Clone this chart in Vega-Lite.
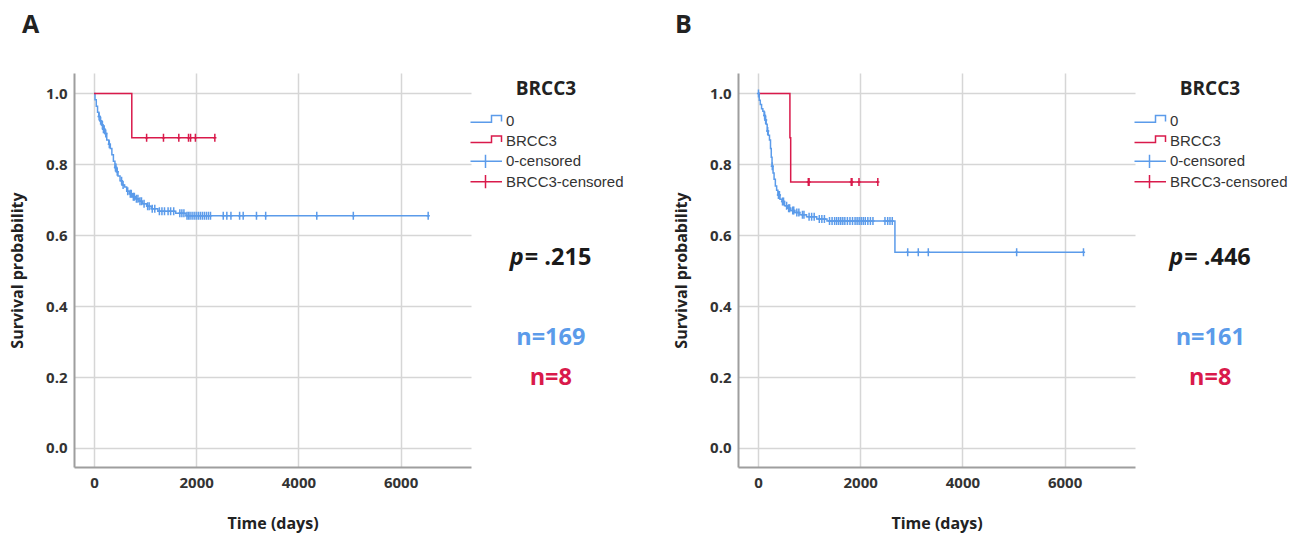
{
  "$schema": "https://vega.github.io/schema/vega-lite/v6.json",
  "background": "white",
  "padding": {"left": 9, "top": 13, "right": 5, "bottom": 5},
  "bounds": "flush",
  "spacing": 267,
  "resolve": {
    "scale": {"color": "independent", "shape": "independent", "stroke": "independent", "fill": "independent"},
    "legend": {"color": "independent", "shape": "independent", "stroke": "independent", "fill": "independent"}
  },
  "config": {
    "view": {"stroke": null},
    "font": "Open Sans",
    "axis": {
      "domainColor": "#9e9e9e", "domainWidth": 2, "ticks": false, "grid": true,
      "gridColor": "#d6d6d6", "gridWidth": 1.5,
      "labelFont": "Open Sans", "labelFontWeight": "bold", "labelFontSize": 15, "labelColor": "#333333",
      "titleFont": "Open Sans", "titleFontWeight": "bold", "titleFontSize": 16, "titleColor": "#222222",
      "labelOverlap": false
    },
    "legend": {"orient": "none", "legendX": 394, "legendY": 7, "titleAnchor": "middle", "titleFont": "Open Sans", "titleFontSize": 19, "titleFontWeight": "bold", "titleColor": "#222222", "titlePadding": 14, "labelFont": "Liberation Sans", "labelFontSize": 15, "labelColor": "#333333", "symbolSize": 100, "symbolStrokeWidth": 1.5, "labelOffset": 23, "rowPadding": -0.6, "gridAlign": "all", "symbolFillColor": "transparent"}
  },
  "datasets": {
    "keys": [{"key": "0"}, {"key": "BRCC3"}, {"key": "0-censored"}, {"key": "BRCC3-censored"}],
    "kmA": [
      {"t": 0, "s": 1, "key": "0"}, {"t": 20, "s": 0.982, "key": "0"}, {"t": 45, "s": 0.964, "key": "0"},
      {"t": 70, "s": 0.947, "key": "0"}, {"t": 95, "s": 0.935, "key": "0"}, {"t": 120, "s": 0.923, "key": "0"},
      {"t": 150, "s": 0.911, "key": "0"}, {"t": 175, "s": 0.899, "key": "0"}, {"t": 210, "s": 0.887, "key": "0"},
      {"t": 250, "s": 0.869, "key": "0"}, {"t": 290, "s": 0.857, "key": "0"}, {"t": 320, "s": 0.845, "key": "0"},
      {"t": 350, "s": 0.827, "key": "0"}, {"t": 380, "s": 0.809, "key": "0"}, {"t": 410, "s": 0.791, "key": "0"},
      {"t": 440, "s": 0.779, "key": "0"}, {"t": 470, "s": 0.767, "key": "0"}, {"t": 510, "s": 0.754, "key": "0"},
      {"t": 550, "s": 0.742, "key": "0"}, {"t": 600, "s": 0.736, "key": "0"}, {"t": 640, "s": 0.724, "key": "0"},
      {"t": 690, "s": 0.717, "key": "0"}, {"t": 750, "s": 0.709, "key": "0"}, {"t": 810, "s": 0.703, "key": "0"},
      {"t": 880, "s": 0.696, "key": "0"}, {"t": 950, "s": 0.689, "key": "0"}, {"t": 1030, "s": 0.682, "key": "0"},
      {"t": 1120, "s": 0.675, "key": "0"}, {"t": 1250, "s": 0.668, "key": "0"}, {"t": 1600, "s": 0.662, "key": "0"},
      {"t": 1800, "s": 0.655, "key": "0"}, {"t": 6560, "s": 0.655, "key": "0"},
      {"t": 0, "s": 1, "key": "BRCC3"}, {"t": 740, "s": 0.875, "key": "BRCC3"}, {"t": 2370, "s": 0.875, "key": "BRCC3"}
    ],
    "censA": [
      {"t": 100, "s": 0.935, "key": "0-censored"}, {"t": 130, "s": 0.923, "key": "0-censored"},
      {"t": 165, "s": 0.911, "key": "0-censored"}, {"t": 185, "s": 0.899, "key": "0-censored"},
      {"t": 200, "s": 0.899, "key": "0-censored"}, {"t": 230, "s": 0.887, "key": "0-censored"},
      {"t": 300, "s": 0.857, "key": "0-censored"}, {"t": 420, "s": 0.791, "key": "0-censored"},
      {"t": 430, "s": 0.791, "key": "0-censored"}, {"t": 455, "s": 0.779, "key": "0-censored"},
      {"t": 540, "s": 0.754, "key": "0-censored"}, {"t": 570, "s": 0.742, "key": "0-censored"},
      {"t": 660, "s": 0.724, "key": "0-censored"}, {"t": 710, "s": 0.717, "key": "0-censored"},
      {"t": 730, "s": 0.717, "key": "0-censored"}, {"t": 770, "s": 0.709, "key": "0-censored"},
      {"t": 790, "s": 0.709, "key": "0-censored"}, {"t": 830, "s": 0.703, "key": "0-censored"},
      {"t": 860, "s": 0.703, "key": "0-censored"}, {"t": 900, "s": 0.696, "key": "0-censored"},
      {"t": 930, "s": 0.696, "key": "0-censored"}, {"t": 980, "s": 0.689, "key": "0-censored"},
      {"t": 1050, "s": 0.682, "key": "0-censored"}, {"t": 1080, "s": 0.682, "key": "0-censored"},
      {"t": 1140, "s": 0.675, "key": "0-censored"}, {"t": 1190, "s": 0.675, "key": "0-censored"},
      {"t": 1280, "s": 0.668, "key": "0-censored"}, {"t": 1330, "s": 0.668, "key": "0-censored"},
      {"t": 1380, "s": 0.668, "key": "0-censored"}, {"t": 1450, "s": 0.668, "key": "0-censored"},
      {"t": 1500, "s": 0.668, "key": "0-censored"}, {"t": 1560, "s": 0.668, "key": "0-censored"},
      {"t": 1680, "s": 0.662, "key": "0-censored"}, {"t": 1720, "s": 0.662, "key": "0-censored"},
      {"t": 1760, "s": 0.662, "key": "0-censored"}, {"t": 1820, "s": 0.655, "key": "0-censored"},
      {"t": 1850, "s": 0.655, "key": "0-censored"}, {"t": 1880, "s": 0.655, "key": "0-censored"},
      {"t": 1920, "s": 0.655, "key": "0-censored"}, {"t": 1960, "s": 0.655, "key": "0-censored"},
      {"t": 2000, "s": 0.655, "key": "0-censored"}, {"t": 2040, "s": 0.655, "key": "0-censored"},
      {"t": 2080, "s": 0.655, "key": "0-censored"}, {"t": 2120, "s": 0.655, "key": "0-censored"},
      {"t": 2160, "s": 0.655, "key": "0-censored"}, {"t": 2200, "s": 0.655, "key": "0-censored"},
      {"t": 2240, "s": 0.655, "key": "0-censored"}, {"t": 2280, "s": 0.655, "key": "0-censored"},
      {"t": 2530, "s": 0.655, "key": "0-censored"}, {"t": 2600, "s": 0.655, "key": "0-censored"},
      {"t": 2680, "s": 0.655, "key": "0-censored"}, {"t": 2850, "s": 0.655, "key": "0-censored"},
      {"t": 2920, "s": 0.655, "key": "0-censored"}, {"t": 3180, "s": 0.655, "key": "0-censored"},
      {"t": 3360, "s": 0.655, "key": "0-censored"}, {"t": 4360, "s": 0.655, "key": "0-censored"},
      {"t": 5075, "s": 0.655, "key": "0-censored"}, {"t": 6540, "s": 0.655, "key": "0-censored"},
      {"t": 1030, "s": 0.875, "key": "BRCC3-censored"}, {"t": 1360, "s": 0.875, "key": "BRCC3-censored"},
      {"t": 1660, "s": 0.875, "key": "BRCC3-censored"}, {"t": 1850, "s": 0.875, "key": "BRCC3-censored"},
      {"t": 1890, "s": 0.875, "key": "BRCC3-censored"}, {"t": 1985, "s": 0.875, "key": "BRCC3-censored"},
      {"t": 2365, "s": 0.875, "key": "BRCC3-censored"}
    ],
    "kmB": [
      {"t": 0, "s": 1, "key": "0"}, {"t": 25, "s": 0.981, "key": "0"}, {"t": 45, "s": 0.969, "key": "0"},
      {"t": 70, "s": 0.957, "key": "0"}, {"t": 95, "s": 0.95, "key": "0"}, {"t": 120, "s": 0.938, "key": "0"},
      {"t": 140, "s": 0.925, "key": "0"}, {"t": 160, "s": 0.913, "key": "0"}, {"t": 180, "s": 0.894, "key": "0"},
      {"t": 200, "s": 0.882, "key": "0"}, {"t": 225, "s": 0.869, "key": "0"}, {"t": 245, "s": 0.845, "key": "0"},
      {"t": 260, "s": 0.82, "key": "0"}, {"t": 275, "s": 0.795, "key": "0"}, {"t": 295, "s": 0.776, "key": "0"},
      {"t": 315, "s": 0.758, "key": "0"}, {"t": 340, "s": 0.739, "key": "0"}, {"t": 365, "s": 0.727, "key": "0"},
      {"t": 390, "s": 0.714, "key": "0"}, {"t": 430, "s": 0.702, "key": "0"}, {"t": 470, "s": 0.695, "key": "0"},
      {"t": 520, "s": 0.683, "key": "0"}, {"t": 580, "s": 0.676, "key": "0"}, {"t": 640, "s": 0.67, "key": "0"},
      {"t": 720, "s": 0.664, "key": "0"}, {"t": 820, "s": 0.658, "key": "0"}, {"t": 950, "s": 0.652, "key": "0"},
      {"t": 1150, "s": 0.646, "key": "0"}, {"t": 1350, "s": 0.64, "key": "0"}, {"t": 2680, "s": 0.552, "key": "0"},
      {"t": 6380, "s": 0.552, "key": "0"},
      {"t": 0, "s": 1, "key": "BRCC3"}, {"t": 625, "s": 0.875, "key": "BRCC3"}, {"t": 640, "s": 0.75, "key": "BRCC3"},
      {"t": 2345, "s": 0.75, "key": "BRCC3"}
    ],
    "censB": [
      {"t": 10, "s": 1, "key": "0-censored"}, {"t": 130, "s": 0.938, "key": "0-censored"},
      {"t": 150, "s": 0.925, "key": "0-censored"}, {"t": 190, "s": 0.894, "key": "0-censored"},
      {"t": 280, "s": 0.795, "key": "0-censored"}, {"t": 400, "s": 0.714, "key": "0-censored"},
      {"t": 420, "s": 0.714, "key": "0-censored"}, {"t": 480, "s": 0.695, "key": "0-censored"},
      {"t": 500, "s": 0.695, "key": "0-censored"}, {"t": 560, "s": 0.683, "key": "0-censored"},
      {"t": 600, "s": 0.676, "key": "0-censored"}, {"t": 620, "s": 0.676, "key": "0-censored"},
      {"t": 680, "s": 0.67, "key": "0-censored"}, {"t": 700, "s": 0.67, "key": "0-censored"},
      {"t": 760, "s": 0.664, "key": "0-censored"}, {"t": 800, "s": 0.664, "key": "0-censored"},
      {"t": 870, "s": 0.658, "key": "0-censored"}, {"t": 900, "s": 0.658, "key": "0-censored"},
      {"t": 1000, "s": 0.652, "key": "0-censored"}, {"t": 1050, "s": 0.652, "key": "0-censored"},
      {"t": 1100, "s": 0.652, "key": "0-censored"}, {"t": 1200, "s": 0.646, "key": "0-censored"},
      {"t": 1250, "s": 0.646, "key": "0-censored"}, {"t": 1300, "s": 0.646, "key": "0-censored"},
      {"t": 1400, "s": 0.64, "key": "0-censored"}, {"t": 1450, "s": 0.64, "key": "0-censored"},
      {"t": 1500, "s": 0.64, "key": "0-censored"}, {"t": 1540, "s": 0.64, "key": "0-censored"},
      {"t": 1580, "s": 0.64, "key": "0-censored"}, {"t": 1620, "s": 0.64, "key": "0-censored"},
      {"t": 1660, "s": 0.64, "key": "0-censored"}, {"t": 1700, "s": 0.64, "key": "0-censored"},
      {"t": 1750, "s": 0.64, "key": "0-censored"}, {"t": 1800, "s": 0.64, "key": "0-censored"},
      {"t": 1850, "s": 0.64, "key": "0-censored"}, {"t": 1900, "s": 0.64, "key": "0-censored"},
      {"t": 1940, "s": 0.64, "key": "0-censored"}, {"t": 1980, "s": 0.64, "key": "0-censored"},
      {"t": 2020, "s": 0.64, "key": "0-censored"}, {"t": 2060, "s": 0.64, "key": "0-censored"},
      {"t": 2100, "s": 0.64, "key": "0-censored"}, {"t": 2150, "s": 0.64, "key": "0-censored"},
      {"t": 2200, "s": 0.64, "key": "0-censored"}, {"t": 2250, "s": 0.64, "key": "0-censored"},
      {"t": 2485, "s": 0.64, "key": "0-censored"}, {"t": 2538, "s": 0.64, "key": "0-censored"},
      {"t": 2583, "s": 0.64, "key": "0-censored"}, {"t": 2628, "s": 0.64, "key": "0-censored"},
      {"t": 2930, "s": 0.552, "key": "0-censored"}, {"t": 3137, "s": 0.552, "key": "0-censored"},
      {"t": 3333, "s": 0.552, "key": "0-censored"}, {"t": 5062, "s": 0.552, "key": "0-censored"},
      {"t": 6370, "s": 0.552, "key": "0-censored"},
      {"t": 985, "s": 0.75, "key": "BRCC3-censored"}, {"t": 1000, "s": 0.75, "key": "BRCC3-censored"},
      {"t": 1825, "s": 0.75, "key": "BRCC3-censored"}, {"t": 1840, "s": 0.75, "key": "BRCC3-censored"},
      {"t": 1977, "s": 0.75, "key": "BRCC3-censored"}, {"t": 2345, "s": 0.75, "key": "BRCC3-censored"}
    ]
  },
  "hconcat": [
    {
      "width": 397, "height": 394,
      "title": {"text": "A", "anchor": "start", "frame": "group", "dx": -52, "offset": 15, "baseline": "alphabetic", "fontSize": 25, "font": "Open Sans", "fontWeight": "bold", "color": "#222222"},
      "layer": [
        {"data": {"name": "kmA"}, "mark": {"type": "line", "interpolate": "step-after", "strokeWidth": 1.5},
         "encoding": {
           "x": {"field": "t", "type": "quantitative", "scale": {"domain": [-391, 7378], "nice": false, "zero": false},
                 "axis": {"title": "Time (days)", "values": [0, 2000, 4000, 6000], "format": "d", "labelPadding": 8, "titleY": 56, "titleBaseline": "middle"}},
           "y": {"field": "s", "type": "quantitative", "scale": {"domain": [-0.0536, 1.0578], "nice": false, "zero": false},
                 "axis": {"title": "Survival probability", "values": [0, 0.2, 0.4, 0.6, 0.8, 1], "format": ".1f", "labelPadding": 7, "titleX": -57, "titleY": 197, "titleBaseline": "middle"}},
           "stroke": {"field": "key", "type": "nominal", "legend": null, "scale": {"domain": ["BRCC3", "0", "BRCC3-censored", "0-censored"], "range": ["#d91a4b", "#5b9bea", "#d91a4b", "#5b9bea"]}},
           "detail": {"field": "key"}}},
        {"data": {"name": "censA"}, "mark": {"type": "point", "shape": "M0,-1V1M-0.4,0H0.4", "size": 64, "filled": false, "strokeWidth": 1.5, "opacity": 1},
         "encoding": {"x": {"field": "t", "type": "quantitative"}, "y": {"field": "s", "type": "quantitative"},
           "stroke": {"field": "key", "type": "nominal", "legend": null}}},
        {"data": {"name": "keys"}, "mark": {"type": "point", "filled": false, "opacity": 1, "strokeWidth": 1.5},
         "encoding": {
           "x": {"field": "t", "type": "quantitative"}, "y": {"field": "s", "type": "quantitative"},
           "color": {"field": "key", "type": "nominal", "title": "BRCC3", "scale": {"domain": ["0", "BRCC3", "0-censored", "BRCC3-censored"], "range": ["#5b9bea", "#d91a4b", "#5b9bea", "#d91a4b"]}},
           "shape": {"field": "key", "type": "nominal", "title": "BRCC3",
                     "scale": {"domain": ["0", "BRCC3", "0-censored", "BRCC3-censored"], "range": ["M-1,0.33H3.2V-1H5.2V0.2", "M-1,0.33H3.2V-1H5.2V0.2", "M-1,0H5.3M2,-1.33V1.33", "M-1,0H5.3M2,-1.33V1.33"]}}
         }},
        {"data": {"values": [{"sym": "p"}]}, "mark": {"type": "text", "clip": false, "font": "Open Sans", "fontWeight": "bold", "fontStyle": "italic", "fontSize": 23.5, "align": "right", "baseline": "middle", "dx": -27},
         "encoding": {"x": {"datum": 8940, "type": "quantitative"}, "y": {"datum": 0.536, "type": "quantitative"}, "text": {"field": "sym"}, "fill": {"value": "#1a1a1a"}}},
        {"data": {"values": [{"pval": "= .215"}]}, "mark": {"type": "text", "clip": false, "font": "Open Sans", "fontWeight": "bold", "fontSize": 23.5, "align": "left", "baseline": "middle", "dx": -26},
         "encoding": {"x": {"datum": 8940, "type": "quantitative"}, "y": {"datum": 0.536, "type": "quantitative"}, "text": {"field": "pval"}, "fill": {"value": "#1a1a1a"}}},
        {"data": {"values": [{"key": "0", "label": "n=169"}]}, "mark": {"type": "text", "clip": false, "font": "Open Sans", "fontWeight": "bold", "fontSize": 23.5, "align": "center", "baseline": "middle"},
         "encoding": {"x": {"datum": 8940, "type": "quantitative"}, "y": {"datum": 0.31, "type": "quantitative"}, "text": {"field": "label"},
           "fill": {"field": "key", "type": "nominal", "legend": null, "scale": {"domain": ["0", "BRCC3"], "range": ["#5b9bea", "#d91a4b"]}}}},
        {"data": {"values": [{"key": "BRCC3", "label": "n=8"}]}, "mark": {"type": "text", "clip": false, "font": "Open Sans", "fontWeight": "bold", "fontSize": 23.5, "align": "center", "baseline": "middle"},
         "encoding": {"x": {"datum": 8940, "type": "quantitative"}, "y": {"datum": 0.1975, "type": "quantitative"}, "text": {"field": "label"},
           "fill": {"field": "key", "type": "nominal", "legend": null, "scale": {"domain": ["0", "BRCC3"], "range": ["#5b9bea", "#d91a4b"]}}}}
      ]
    },
    {
      "width": 397, "height": 394,
      "title": {"text": "B", "anchor": "start", "frame": "group", "dx": -63, "offset": 15, "baseline": "alphabetic", "fontSize": 25, "font": "Open Sans", "fontWeight": "bold", "color": "#222222"},
      "layer": [
        {"data": {"name": "kmB"}, "mark": {"type": "line", "interpolate": "step-after", "strokeWidth": 1.5},
         "encoding": {
           "x": {"field": "t", "type": "quantitative", "scale": {"domain": [-391, 7378], "nice": false, "zero": false},
                 "axis": {"title": "Time (days)", "values": [0, 2000, 4000, 6000], "format": "d", "labelPadding": 8, "titleY": 56, "titleBaseline": "middle"}},
           "y": {"field": "s", "type": "quantitative", "scale": {"domain": [-0.0536, 1.0578], "nice": false, "zero": false},
                 "axis": {"title": "Survival probability", "values": [0, 0.2, 0.4, 0.6, 0.8, 1], "format": ".1f", "labelPadding": 7, "titleX": -57, "titleY": 197, "titleBaseline": "middle"}},
           "stroke": {"field": "key", "type": "nominal", "legend": null, "scale": {"domain": ["BRCC3", "0", "BRCC3-censored", "0-censored"], "range": ["#d91a4b", "#5b9bea", "#d91a4b", "#5b9bea"]}},
           "detail": {"field": "key"}}},
        {"data": {"name": "censB"}, "mark": {"type": "point", "shape": "M0,-1V1M-0.4,0H0.4", "size": 64, "filled": false, "strokeWidth": 1.5, "opacity": 1},
         "encoding": {"x": {"field": "t", "type": "quantitative"}, "y": {"field": "s", "type": "quantitative"},
           "stroke": {"field": "key", "type": "nominal", "legend": null}}},
        {"data": {"name": "keys"}, "mark": {"type": "point", "filled": false, "opacity": 1, "strokeWidth": 1.5},
         "encoding": {
           "x": {"field": "t", "type": "quantitative"}, "y": {"field": "s", "type": "quantitative"},
           "color": {"field": "key", "type": "nominal", "title": "BRCC3", "scale": {"domain": ["0", "BRCC3", "0-censored", "BRCC3-censored"], "range": ["#5b9bea", "#d91a4b", "#5b9bea", "#d91a4b"]}},
           "shape": {"field": "key", "type": "nominal", "title": "BRCC3",
                     "scale": {"domain": ["0", "BRCC3", "0-censored", "BRCC3-censored"], "range": ["M-1,0.33H3.2V-1H5.2V0.2", "M-1,0.33H3.2V-1H5.2V0.2", "M-1,0H5.3M2,-1.33V1.33", "M-1,0H5.3M2,-1.33V1.33"]}}
         }},
        {"data": {"values": [{"sym": "p"}]}, "mark": {"type": "text", "clip": false, "font": "Open Sans", "fontWeight": "bold", "fontStyle": "italic", "fontSize": 23.5, "align": "right", "baseline": "middle", "dx": -27},
         "encoding": {"x": {"datum": 8850, "type": "quantitative"}, "y": {"datum": 0.536, "type": "quantitative"}, "text": {"field": "sym"}, "fill": {"value": "#1a1a1a"}}},
        {"data": {"values": [{"pval": "= .446"}]}, "mark": {"type": "text", "clip": false, "font": "Open Sans", "fontWeight": "bold", "fontSize": 23.5, "align": "left", "baseline": "middle", "dx": -26},
         "encoding": {"x": {"datum": 8850, "type": "quantitative"}, "y": {"datum": 0.536, "type": "quantitative"}, "text": {"field": "pval"}, "fill": {"value": "#1a1a1a"}}},
        {"data": {"values": [{"key": "0", "label": "n=161"}]}, "mark": {"type": "text", "clip": false, "font": "Open Sans", "fontWeight": "bold", "fontSize": 23.5, "align": "center", "baseline": "middle"},
         "encoding": {"x": {"datum": 8850, "type": "quantitative"}, "y": {"datum": 0.31, "type": "quantitative"}, "text": {"field": "label"},
           "fill": {"field": "key", "type": "nominal", "legend": null, "scale": {"domain": ["0", "BRCC3"], "range": ["#5b9bea", "#d91a4b"]}}}},
        {"data": {"values": [{"key": "BRCC3", "label": "n=8"}]}, "mark": {"type": "text", "clip": false, "font": "Open Sans", "fontWeight": "bold", "fontSize": 23.5, "align": "center", "baseline": "middle"},
         "encoding": {"x": {"datum": 8850, "type": "quantitative"}, "y": {"datum": 0.1975, "type": "quantitative"}, "text": {"field": "label"},
           "fill": {"field": "key", "type": "nominal", "legend": null, "scale": {"domain": ["0", "BRCC3"], "range": ["#5b9bea", "#d91a4b"]}}}}
      ]
    }
  ]
}
